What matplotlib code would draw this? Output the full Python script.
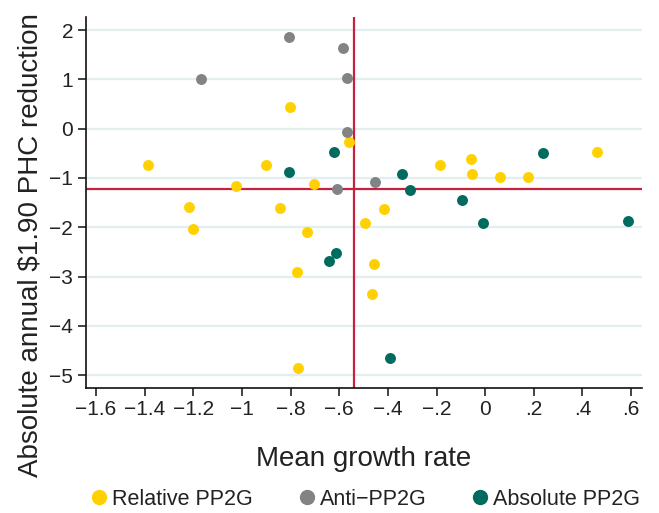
"""Absolute annual $1.90 PHC reduction vs mean growth rate scatter"""

import matplotlib
matplotlib.use('Agg')
import matplotlib.pyplot as plt
from matplotlib.lines import Line2D

plt.rcParams['font.family'] = ['Liberation Sans', 'DejaVu Sans']

# Relative PP2G
rel_x = [-0.804, -0.560, -1.384, -0.901, -1.025, -0.702, -0.184, -0.058, -0.056, 0.062, 0.177,
         0.459, -1.219, -0.845, -1.201, -0.733, -0.774, -0.771, -0.493, -0.456, -0.466, -0.415]
rel_y = [0.446, -0.26, -0.73, -0.74, -1.16, -1.12, -0.73, -0.61, -0.91, -0.97, -0.98,
         -0.47, -1.59, -1.60, -2.04, -2.10, -2.90, -4.86, -1.91, -2.75, -3.36, -1.63]

# Anti-PP2G
anti_x = [-0.808, -0.586, -1.167, -0.568, -0.568, -0.610, -0.452]
anti_y = [1.865, 1.64, 1.0, 1.03, -0.07, -1.23, -1.09]

# Absolute PP2G
abs_x = [-0.621, -0.806, -0.340, -0.311, -0.095, 0.236, -0.612, -0.640, -0.007, 0.589, -0.390]
abs_y = [-0.47, -0.88, -0.925, -1.24, -1.45, -0.49, -2.53, -2.68, -1.905, -1.865, -4.66]

# reference lines (means)
mean_x = -0.541
mean_y = -1.22

x_ticks = [-1.6, -1.4, -1.2, -1.0, -0.8, -0.6, -0.4, -0.2, 0.0, 0.2, 0.4, 0.6]
x_labels = ['\u22121.6', '\u22121.4', '\u22121.2', '\u22121', '\u2212.8', '\u2212.6',
            '\u2212.4', '\u2212.2', '0', '.2', '.4', '.6']
y_ticks = [2, 1, 0, -1, -2, -3, -4, -5]
y_labels = ['2', '1', '0', '\u22121', '\u22122', '\u22123', '\u22124', '\u22125']

c_rel = '#FFD100'
c_anti = '#828385'
c_abs = '#006B5F'
c_red = '#C8203F'
c_grid = '#E2EEF0'

fig = plt.figure(figsize=(6.59, 5.13), dpi=100)
ax = fig.add_axes([0.130, 0.244, 0.844, 0.723])

for y in y_ticks:
    ax.axhline(y, color=c_grid, lw=1.6, zorder=0)

ax.axvline(mean_x, color=c_red, lw=1.6, zorder=1)
ax.axhline(mean_y, color=c_red, lw=1.6, zorder=1)

ms = 62
ax.scatter(rel_x, rel_y, s=ms, color=c_rel, lw=0, zorder=3)
ax.scatter(anti_x, anti_y, s=ms, color=c_anti, lw=0, zorder=3)
ax.scatter(abs_x, abs_y, s=ms, color=c_abs, lw=0, zorder=3)

ax.set_xlim(-1.642, 0.644)
ax.set_ylim(-5.26, 2.27)
ax.set_xticks(x_ticks)
ax.set_xticklabels(x_labels)
ax.set_yticks(y_ticks)
ax.set_yticklabels(y_labels)
ax.tick_params(axis='both', direction='out', length=6, width=1.2, labelsize=15,
               colors='#222222', pad=3)

for s in ['top', 'right']:
    ax.spines[s].set_visible(False)
for s in ['left', 'bottom']:
    ax.spines[s].set_linewidth(1.2)
    ax.spines[s].set_color('#111111')

ax.set_xlabel('Mean growth rate', fontsize=20, color='#222222', labelpad=19)
ax.set_ylabel('Absolute annual \\$1.90 PHC reduction', fontsize=20, color='#222222')
ax.yaxis.set_label_coords(-0.076, 0.385)

handles = [
    Line2D([], [], ls='', marker='o', ms=10, mfc=c_rel, mec=c_rel, label='Relative PP2G'),
    Line2D([], [], ls='', marker='o', ms=10, mfc=c_anti, mec=c_anti, label='Anti\u2212PP2G'),
    Line2D([], [], ls='', marker='o', ms=10, mfc=c_abs, mec=c_abs, label='Absolute PP2G'),
]
fig.legend(handles=handles, loc='center', bbox_to_anchor=(0.553, 0.027), ncol=3,
           frameon=False, fontsize=15.5, handletextpad=0.1, columnspacing=2.0,
           handlelength=1.0, labelcolor='#222222')

fig.savefig('out.png', dpi=100)
